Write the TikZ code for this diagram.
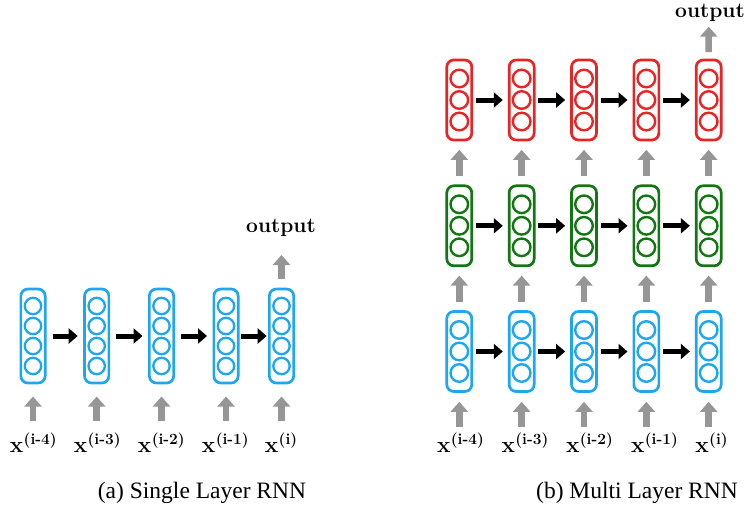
\documentclass[tikz,border=0pt]{standalone}
\usepackage{fontspec}
\newfontfamily\capfont{Liberation Serif}
\usetikzlibrary{arrows.meta}
\definecolor{cblue}{RGB}{30,166,240}
\definecolor{cred}{RGB}{232,36,36}
\definecolor{cgreen}{RGB}{18,118,18}
\definecolor{cgray}{RGB}{150,150,150}
\tikzset{
  cellL/.style={draw=cblue, line width=2.7pt, rounded corners=7pt, minimum width=24.3pt, minimum height=94pt, inner sep=0pt},
  cellR/.style={draw=#1, line width=2.7pt, rounded corners=7pt, minimum width=25pt, minimum height=80pt, inner sep=0pt},
  unitL/.style={draw=cblue, line width=2.3pt},
  unitR/.style={draw=#1, line width=2.4pt},
  barrow/.style={line width=5pt, -{Triangle[width=15pt,length=9pt]}},
  garrow/.style={cgray, line width=6.5pt, -{Triangle[width=17pt,length=10pt]}},
  xlab/.style={anchor=base, inner sep=0pt, font=\fontsize{22.5}{26}\selectfont},
  outlab/.style={anchor=base, inner sep=0pt, font=\fontsize{21}{24}\selectfont\bfseries},
  caplab/.style={anchor=base, inner sep=0pt, font=\capfont\fontsize{23.5}{28}\selectfont}
}
\newcommand{\xsup}[1]{\textbf{x}\kern0.5pt\raisebox{8.5pt}{\fontsize{15.5}{16}\selectfont\textbf{(#1)}}}
\begin{document}
\begin{tikzpicture}[x=1pt,y=-1pt]
\useasboundingbox (0,0) rectangle (752,512);
% ---------- (a) single layer ----------
\foreach \i/\x in {1/33,2/96.7,3/161.5,4/226,5/281.5}{
  \node[cellL] (A\i) at (\x,336) {};
  \foreach \k in {0,1,2,3}{
    \draw[unitL] (\x,306+20*\k) circle (8.2);
  }
  \coordinate (inA\i) at (\x,420.7);
  \draw[garrow, shorten >=12.2pt] (inA\i) -- (A\i);
}
\draw[barrow, shorten <=6pt, shorten >=5.5pt] (A1) -- (A2);
\draw[barrow, shorten <=6pt, shorten >=5.5pt] (A2) -- (A3);
\draw[barrow, shorten <=6pt, shorten >=5.5pt] (A3) -- (A4);
\draw[barrow, shorten <=1.2pt, shorten >=1.3pt] (A4) -- (A5);
\coordinate (outA) at (281.5,255);
\draw[garrow, shorten <=8.5pt] (A5) -- (outA);
\node[outlab] (oA) at (281,232.7) {output};
\node[xlab] (lA1) at (33.3,452.5) {\xsup{i-4}};
\node[xlab] (lA2) at (97.2,452.5) {\xsup{i-3}};
\node[xlab] (lA3) at (161.3,452.5) {\xsup{i-2}};
\node[xlab] (lA4) at (225.3,452.5) {\xsup{i-1}};
\node[xlab] (lA5) at (281,452.5) {\xsup{i}};
\node[caplab] (capA) at (202,498.5) {(a) Single Layer RNN};
% ---------- (b) multi layer ----------
\foreach \r/\y/\c in {B/351.5/cblue,G/225.8/cgreen,R/100/cred}{
  \foreach \i in {1,...,5}{
    \pgfmathsetmacro{\xx}{459.3+62.35*(\i-1)}
    \node[cellR=\c] (\r\i) at (\xx,\y) {};
    \foreach \k in {-1,0,1}{
      \draw[unitR=\c] (\xx,\y+21.5*\k) circle (8.8);
    }
  }
  \foreach \i/\j in {1/2,2/3,3/4,4/5}{
    \draw[barrow, shorten <=2.7pt, shorten >=5pt] (\r\i) -- (\r\j);
  }
}
\foreach \i in {1,...,5}{
  \pgfmathsetmacro{\xx}{459.3+62.35*(\i-1)}
  \coordinate (inB\i) at (\xx,426.7);
  \draw[garrow, shorten >=9pt] (inB\i) -- (B\i);
  \draw[garrow, shorten <=8.5pt, shorten >=8.5pt] (B\i) -- (G\i);
  \draw[garrow, shorten <=8.5pt, shorten >=8.5pt] (G\i) -- (R\i);
}
\coordinate (outB) at (708.7,26.7);
\draw[garrow, shorten <=6.5pt] (R5) -- (outB);
\node[outlab] (oB) at (710,17) {output};
\node[xlab] (lB1) at (460.5,452.5) {\xsup{i-4}};
\node[xlab] (lB2) at (525,452.5) {\xsup{i-3}};
\node[xlab] (lB3) at (589.5,452.5) {\xsup{i-2}};
\node[xlab] (lB4) at (654.5,452.5) {\xsup{i-1}};
\node[xlab] (lB5) at (711.5,452.5) {\xsup{i}};
\node[caplab] (capB) at (637,498.5) {(b) Multi Layer RNN};
\end{tikzpicture}
\end{document}
